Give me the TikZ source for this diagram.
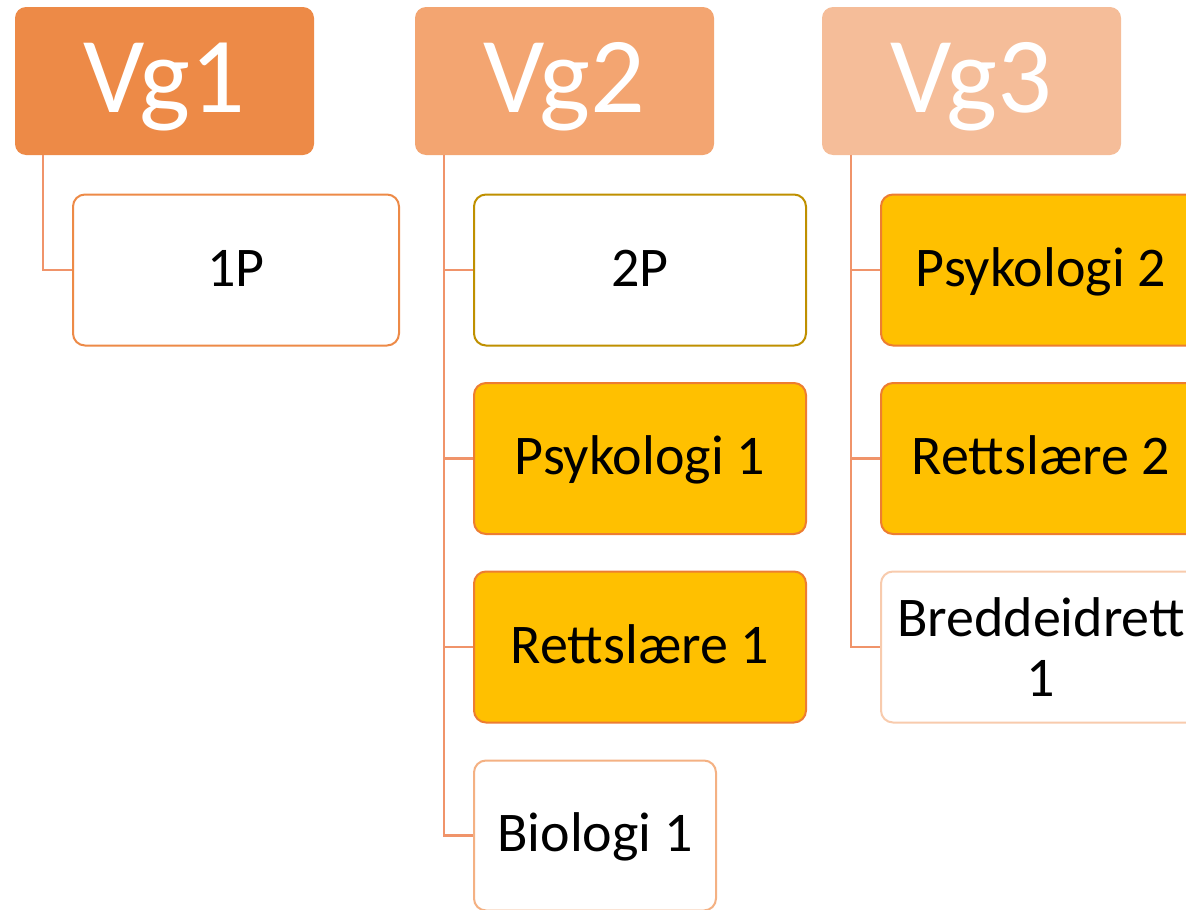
\documentclass[tikz,border=0pt]{standalone}
\usepackage{fontspec}
\setmainfont{Carlito}
\definecolor{vgone}{HTML}{ED8A47}
\definecolor{vgtwo}{HTML}{F3A571}
\definecolor{vgthree}{HTML}{F5BD99}
\definecolor{conncol}{HTML}{F0946A}
\definecolor{goldfill}{HTML}{FFC000}
\definecolor{goldline}{HTML}{BF9000}
\definecolor{orline}{HTML}{ED7D31}
\definecolor{ltline}{HTML}{F4B183}
\definecolor{vltline}{HTML}{F8CBAD}
\begin{document}
\begin{tikzpicture}[x=1pt,y=-1pt,
  vgbox/.style={rectangle,rounded corners=11pt,minimum width=299pt,minimum height=148pt,inner sep=0pt,
    text=white,font=\fontsize{108}{110}\selectfont,text height=80pt,text depth=18pt},
  subbox/.style={rectangle,rounded corners=12pt,minimum width=332pt,minimum height=151pt,inner sep=0pt,
    line width=2pt,font=\fontsize{56}{60}\selectfont,text height=42pt,text depth=10pt},
  hot/.style={subbox,fill=goldfill,draw=orline},
  conn/.style={draw=conncol,line width=2.5pt}]
\useasboundingbox (0,0) rectangle (1186,910);
\clip (0,0) rectangle (1186,910);
% headers
\node[vgbox,fill=vgone] (vg1) at (164.5,81) {Vg1};
\node[vgbox,fill=vgtwo] (vg2) at (564.5,81) {Vg2};
\node[vgbox,fill=vgthree] (vg3) at (971.5,81) {Vg3};
% column 1
\node[subbox,minimum width=326pt,draw=vgone,fill=white] (p1) at (236,270) {1P};
% column 2
\node[subbox,draw=goldline,fill=white] (p2) at (640,270) {2P};
\node[hot] (psy1) at (640,458.5) {Psykologi 1};
\node[hot] (ret1) at (640,647) {Rettslære 1};
\node[subbox,minimum width=242pt,minimum height=150pt,draw=ltline,fill=white] (bio1) at (595,835.5) {Biologi 1};
% column 3
\node[hot,minimum width=320pt] (psy2) at (1041,270) {Psykologi 2};
\node[hot,minimum width=320pt] (ret2) at (1041,458.5) {Rettslære 2};
\node[subbox,minimum width=320pt,draw=vltline,fill=white,align=center,text height=,text depth=] (bred) at (1041,647) {Breddeidrett\\1};
% connectors
\draw[conn] ([xshift=28pt]vg1.south west) |- (p1.west);
\draw[conn] ([xshift=29pt]vg2.south west) |- (p2.west);
\draw[conn] ([xshift=29pt]vg2.south west) |- (psy1.west);
\draw[conn] ([xshift=29pt]vg2.south west) |- (ret1.west);
\draw[conn] ([xshift=29pt]vg2.south west) |- (bio1.west);
\draw[conn] ([xshift=29pt]vg3.south west) |- (psy2.west);
\draw[conn] ([xshift=29pt]vg3.south west) |- (ret2.west);
\draw[conn] ([xshift=29pt]vg3.south west) |- (bred.west);
\end{tikzpicture}
\end{document}
